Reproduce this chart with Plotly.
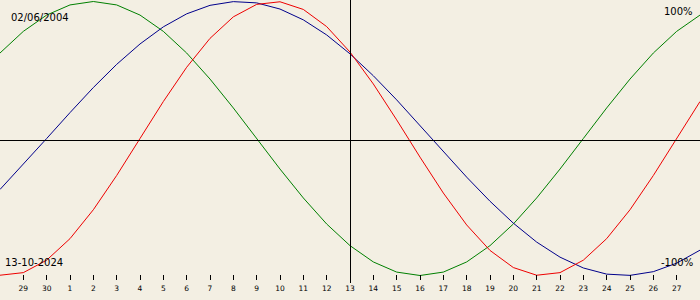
import plotly.graph_objects as go

# Days shown (x axis), 28 Sep 2024 .. 28 Oct 2024
dates = ["2024-09-28", "2024-09-29", "2024-09-30",
         "2024-10-01", "2024-10-02", "2024-10-03", "2024-10-04", "2024-10-05",
         "2024-10-06", "2024-10-07", "2024-10-08", "2024-10-09", "2024-10-10",
         "2024-10-11", "2024-10-12", "2024-10-13", "2024-10-14", "2024-10-15",
         "2024-10-16", "2024-10-17", "2024-10-18", "2024-10-19", "2024-10-20",
         "2024-10-21", "2024-10-22", "2024-10-23", "2024-10-24", "2024-10-25",
         "2024-10-26", "2024-10-27", "2024-10-28"]

tick_dates = dates[1:30]
tick_labels = ["29", "30", "1", "2", "3", "4", "5", "6", "7", "8", "9", "10",
               "11", "12", "13", "14", "15", "16", "17", "18", "19", "20",
               "21", "22", "23", "24", "25", "26", "27"]

# Series values (-1 .. 1) per day
physical = [-0.998, -0.979, -0.888, -0.731, -0.520, -0.270, 0.000, 0.270,
            0.520, 0.731, 0.888, 0.979, 0.998, 0.942, 0.817, 0.631, 0.398,
            0.136, -0.136, -0.398, -0.631, -0.817, -0.942, -0.998, -0.979,
            -0.888, -0.731, -0.520, -0.270, 0.000, 0.270]
emotional = [0.624, 0.782, 0.901, 0.975, 1.000, 0.975, 0.901, 0.782, 0.624,
             0.434, 0.223, 0.000, -0.223, -0.434, -0.624, -0.782, -0.901,
             -0.975, -1.000, -0.975, -0.901, -0.782, -0.624, -0.434, -0.223,
             0.000, 0.223, 0.434, 0.624, 0.782, 0.901]
intellectual = [-0.372, -0.189, 0.000, 0.189, 0.372, 0.541, 0.690, 0.815,
                0.910, 0.972, 0.999, 0.990, 0.945, 0.866, 0.756, 0.618, 0.458,
                0.282, 0.095, -0.095, -0.282, -0.458, -0.618, -0.756, -0.866,
                -0.945, -0.990, -0.999, -0.972, -0.910, -0.815]

birth_text = "02/06/2004"
date_text = "13-10-2024"

BG = "#F3EFE3"
FONT = "DejaVu Sans"

fig = go.Figure()
fig.add_trace(go.Scatter(x=dates, y=emotional, mode="lines",
                         line=dict(color="#008000", width=1), hoverinfo="skip"))
fig.add_trace(go.Scatter(x=dates, y=intellectual, mode="lines",
                         line=dict(color="#00008B", width=1), hoverinfo="skip"))
fig.add_trace(go.Scatter(x=dates, y=physical, mode="lines",
                         line=dict(color="#EE0000", width=1), hoverinfo="skip"))

# midline and "today" line (half-pixel offsets keep them crisp)
fig.add_shape(type="line", xref="paper", yref="paper", x0=0, x1=1,
              y0=0.5 - 0.5/280, y1=0.5 - 0.5/280,
              line=dict(color="black", width=1))
fig.add_shape(type="line", xref="paper", yref="paper",
              x0=350.5/700, x1=350.5/700,
              y0=-3/280, y1=1, line=dict(color="black", width=1))

def ann(text, x, y, xanchor):
    fig.add_annotation(text=text, xref="paper", yref="paper", x=x, y=y,
                       xanchor=xanchor, yanchor="middle", showarrow=False,
                       font=dict(family=FONT, size=10, color="black"),
                       borderpad=0)

ann(birth_text, 10/700, 1 - 17/280, "left")
ann(date_text, 4/700, 1 - 262/280, "left")
ann("100%", 694/700, 1 - 12/280, "right")
ann("-100%", 694/700, 1 - 262/280, "right")

fig.update_layout(
    width=700, height=300,
    margin=dict(l=0, r=0, t=0, b=20),
    paper_bgcolor=BG, plot_bgcolor=BG,
    showlegend=False,
    xaxis=dict(type="date", range=[dates[0], dates[-1]],
               tickvals=tick_dates, ticktext=tick_labels,
               ticks="inside", ticklen=5, tickwidth=1, tickcolor="black",
               showgrid=False, zeroline=False, showline=False,
               ticklabelstandoff=2,
               tickfont=dict(family=FONT, size=7.5, color="black")),
    yaxis=dict(range=[-1.0328, 1.011], visible=False, showgrid=False,
               zeroline=False),
)

fig.write_html("out.html")
